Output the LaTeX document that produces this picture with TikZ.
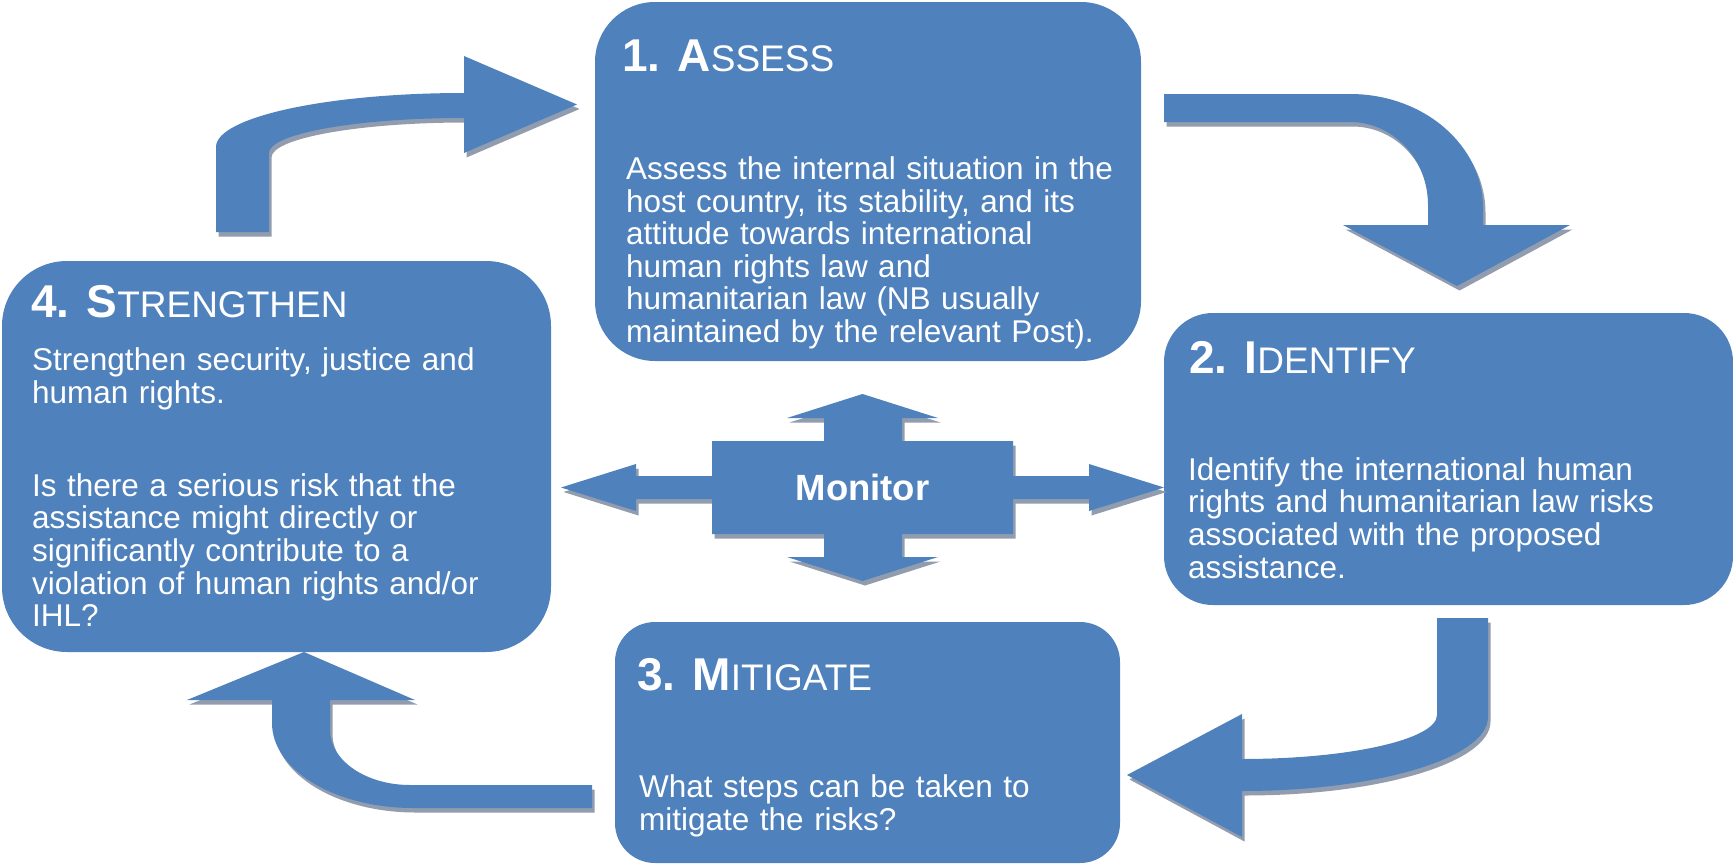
\documentclass[tikz,border=0pt]{standalone}
\usepackage{fontspec}
\setmainfont{Liberation Sans}
\definecolor{boxblue}{RGB}{79,129,189}
\definecolor{shadowc}{RGB}{145,157,175}
\tikzset{
  box/.style={fill=boxblue, draw=none, inner sep=0pt, outer sep=0pt},
  ttl/.style={anchor=base west, inner sep=0pt, text=white},
  body/.style={anchor=north west, inner sep=0pt, text=white, align=left,
    text width=600pt, font=\fontsize{31.5}{32.6}\selectfont},
  big/.style={},
}
\newcommand{\ttlbig}[1]{{\bfseries\fontsize{46}{46}\selectfont #1}}
\newcommand{\ttlsmall}[1]{{\fontsize{37}{37}\selectfont #1}}
\newcommand{\fs}{\rule{0pt}{30pt}}
\begin{document}
\begin{tikzpicture}[x=1pt,y=-1pt]
\fill[white] (0,0) rectangle (1733,865);
\useasboundingbox (0,0) rectangle (1733,865);

% boxes
\node[box, minimum width=546pt, minimum height=359pt, rounded corners=60pt] (assess) at (868,181.5) {};
\node[box, minimum width=549pt, minimum height=391pt, rounded corners=65pt] (strengthen) at (276.5,456.5) {};
\node[box, minimum width=569pt, minimum height=292pt, rounded corners=49pt] (identify) at (1448.5,459) {};
\node[box, minimum width=505pt, minimum height=241pt, rounded corners=40pt] (mitigate) at (867.5,742.5) {};

% block arrows with shadows
\foreach \dx/\dy/\c in {2.5/4.5/shadowc, 0/0/boxblue}{
  \begin{scope}[shift={(\dx,\dy)}]
  % 4 -> 1
  \fill[\c] (216,232) -- (216,147) .. controls (216,117.2) and (327,93) .. (464,93)
    -- (464,56) -- (577,104.5) -- (464,153) -- (464,118)
    .. controls (356.3,118) and (269,133.7) .. (269,153) -- (269,232) -- cycle;
  % 1 -> 2
  \fill[\c] (1164,94) -- (1350,94) .. controls (1423.5,94) and (1483,145) .. (1483,208)
    -- (1483,225) -- (1570,225) -- (1457,286) -- (1343,225) -- (1428,225) -- (1428,205)
    .. controls (1428,159.2) and (1393.1,122) .. (1350,122) -- (1164,122) -- cycle;
  % 2 -> 3
  \fill[\c] (1437,618) -- (1488,618) -- (1488,717)
    .. controls (1488,757.9) and (1377.9,791) .. (1242,791)
    -- (1242,837) -- (1127,775) -- (1242,714) -- (1242,759)
    .. controls (1349.7,759) and (1437,739.3) .. (1437,715) -- cycle;
  % 3 -> 4
  \fill[\c] (592,785) -- (410,785) .. controls (365.8,785) and (330,760.4) .. (330,730)
    -- (330,700) -- (415,700) -- (304,652) -- (187,700) -- (272,700) -- (272,723)
    .. controls (272,770) and (335.1,808) .. (413,808) -- (592,808) -- cycle;
  % monitor quad arrow
  \fill[\c] (862.5,394) -- (938,418) -- (902,418) -- (902,441) -- (1013,441) -- (1013,476)
    -- (1089,476) -- (1089,464) -- (1164,487.5) -- (1089,511) -- (1089,499) -- (1013,499)
    -- (1013,534) -- (902,534) -- (902,557) -- (938,557) -- (862.5,581) -- (787,557)
    -- (824,557) -- (824,534) -- (712,534) -- (712,499) -- (636,499) -- (636,511)
    -- (561,487.5) -- (636,464) -- (636,476) -- (712,476) -- (712,441) -- (824,441)
    -- (824,418) -- (787,418) -- cycle;
  \end{scope}
}

\node[ttl, anchor=base, font=\bfseries\fontsize{36.5}{36.5}\selectfont] (monitor) at (862.5,500.7) {Monitor};

% titles
\node[ttl] (t1) at (622,71) {\ttlbig{1. A}\ttlsmall{SSESS}};
\node[ttl] (t4) at (31,317) {\ttlbig{4. S}\ttlsmall{TRENGTHEN}};
\node[ttl] (t2) at (1189,373) {\ttlbig{2. I}\ttlsmall{DENTIFY}};
\node[ttl] (t3) at (637,690.5) {\ttlbig{3. M}\ttlsmall{ITIGATE}};

% bodies
\node[body] (b1) at (626,149.3) {\fs Assess the internal situation in the\\
host country, its stability, and its\\
attitude towards international\\
human rights law and\\
humanitarian law (NB usually\\
maintained by the relevant Post).};
\node[body] (b4a) at (32,340.5) {\fs Strengthen security, justice and\\
human rights.};
\node[body] (b4b) at (32,466) {\fs Is there a serious risk that the\\
assistance might directly or\\
significantly contribute to a\\
violation of human rights and/or\\
IHL?};
\node[body] (b2) at (1188,450) {\fs Identify the international human\\
rights and humanitarian law risks\\
associated with the proposed\\
assistance.};
\node[body] (b3) at (639,767.7) {\fs What steps can be taken to\\
mitigate the risks?};
\end{tikzpicture}
\end{document}
